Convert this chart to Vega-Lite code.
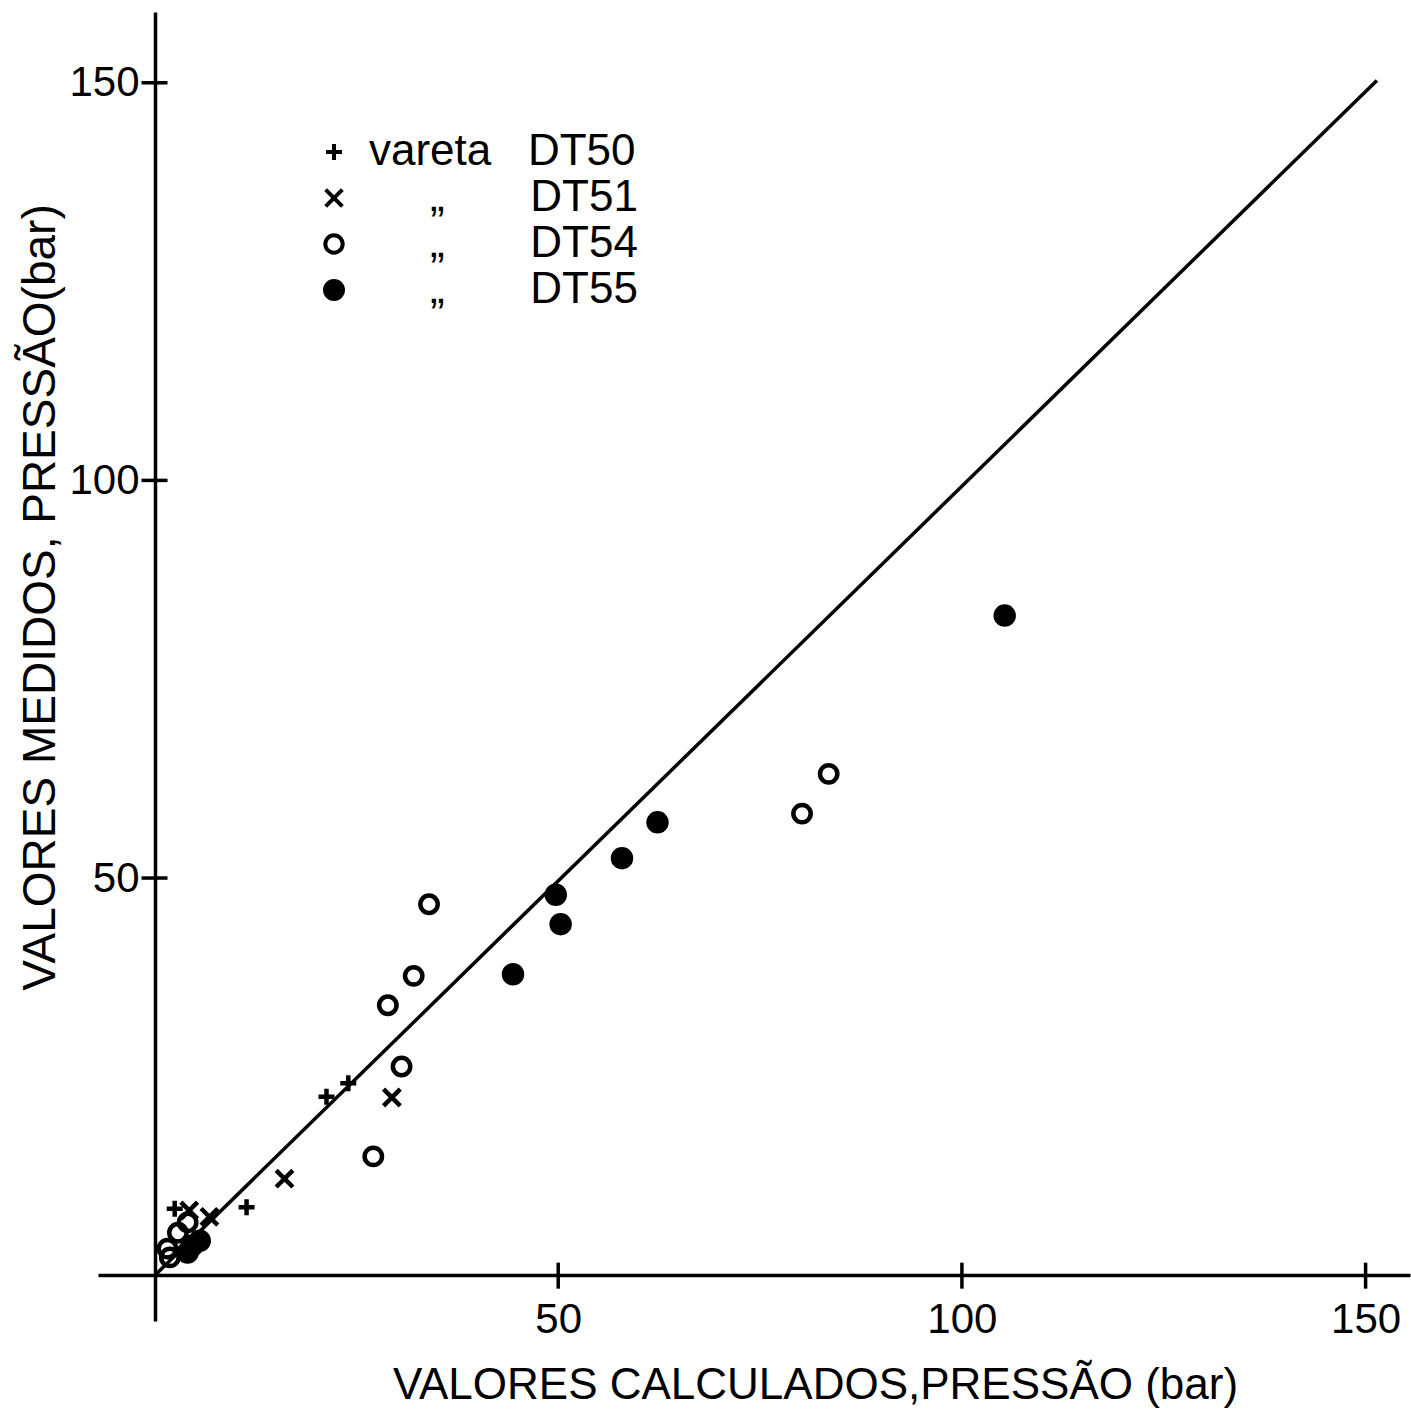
{
  "$schema": "https://vega.github.io/schema/vega-lite/v6.json",
  "width": 1312,
  "height": 1309,
  "autosize": {"type": "none"},
  "padding": {"left": 98, "top": 12, "right": 1, "bottom": 89},
  "background": "white",
  "config": {"view": {"stroke": null}, "font": "Liberation Sans"},
  "datasets": {
    "pts": [
      {"series": "DT50", "x": 2.5, "y": 8.4},
      {"series": "DT50", "x": 11.4, "y": 8.6},
      {"series": "DT50", "x": 21.3, "y": 22.5},
      {"series": "DT50", "x": 24.0, "y": 24.2},
      {"series": "DT51", "x": 4.3, "y": 8.2},
      {"series": "DT51", "x": 6.8, "y": 7.4},
      {"series": "DT51", "x": 16.1, "y": 12.2},
      {"series": "DT51", "x": 29.4, "y": 22.4},
      {"series": "DT54", "x": 34.0, "y": 46.7},
      {"series": "DT54", "x": 32.1, "y": 37.7},
      {"series": "DT54", "x": 28.9, "y": 34.0},
      {"series": "DT54", "x": 30.6, "y": 26.3},
      {"series": "DT54", "x": 27.1, "y": 15.0},
      {"series": "DT54", "x": 83.5, "y": 63.1},
      {"series": "DT54", "x": 80.2, "y": 58.1},
      {"series": "DT54", "x": 1.6, "y": 3.4},
      {"series": "DT54", "x": 2.9, "y": 5.4},
      {"series": "DT54", "x": 4.1, "y": 6.7},
      {"series": "DT54", "x": 1.9, "y": 2.3},
      {"series": "DT55", "x": 105.3, "y": 83.0},
      {"series": "DT55", "x": 62.3, "y": 57.0},
      {"series": "DT55", "x": 57.9, "y": 52.5},
      {"series": "DT55", "x": 49.7, "y": 47.9},
      {"series": "DT55", "x": 50.3, "y": 44.2},
      {"series": "DT55", "x": 44.4, "y": 37.9},
      {"series": "DT55", "x": 4.7, "y": 3.8},
      {"series": "DT55", "x": 5.6, "y": 4.4},
      {"series": "DT55", "x": 4.1, "y": 2.9}
    ],
    "diag": [{"x": 0, "y": 0}, {"x": 151.4, "y": 150.3}],
    "xticks": [{"x": 50, "y": 0}, {"x": 100, "y": 0}, {"x": 150, "y": 0}],
    "yticks": [{"x": 0, "y": 50}, {"x": 0, "y": 100}, {"x": 0, "y": 150}]
  },
  "encoding": {
    "x": {
      "field": "x", "type": "quantitative",
      "scale": {"domain": [-7, 155.5], "nice": false, "zero": false},
      "axis": {
        "title": "VALORES CALCULADOS,PRESSÃO (bar)",
        "values": [50, 100, 150], "offset": -46, "grid": false,
        "ticks": false, "tickSize": 0, "domainWidth": 3.5, "domainColor": "black",
        "labelFontSize": 42, "labelColor": "black", "labelPadding": 24, "labelFont": "Liberation Sans",
        "labelOverlap": false, "labelFlush": false,
        "titleFont": "Liberation Sans", "titleFontSize": 44, "titleFontWeight": "normal", "titleColor": "black",
        "titleX": 717, "titleY": 110, "titleBaseline": "middle", "titleAlign": "center", "titleAnchor": null
      }
    },
    "y": {
      "field": "y", "type": "quantitative",
      "scale": {"domain": [-5.7, 158.9], "nice": false, "zero": false},
      "axis": {
        "title": "VALORES MEDIDOS, PRESSÃO(bar)",
        "values": [50, 100, 150], "offset": -57, "grid": false,
        "ticks": false, "tickSize": 0, "domainWidth": 3.5, "domainColor": "black",
        "labelFontSize": 42, "labelColor": "black", "labelPadding": 16, "labelFont": "Liberation Sans",
        "labelOverlap": false, "labelFlush": false,
        "titleFont": "Liberation Sans", "titleFontSize": 46, "titleFontWeight": "normal", "titleColor": "black",
        "titleX": -115, "titleY": 585, "titleBaseline": "middle", "titleAlign": "center", "titleAngle": -90, "titleAnchor": null
      }
    }
  },
  "layer": [
    {
      "data": {"name": "diag"},
      "mark": {"type": "line", "color": "black", "strokeWidth": 3.5},
      "encoding": {}
    },
    {
      "data": {"name": "xticks"},
      "mark": {"type": "tick", "orient": "vertical", "size": 26, "thickness": 3.5, "color": "black", "opacity": 1},
      "encoding": {}
    },
    {
      "data": {"name": "yticks"},
      "mark": {"type": "tick", "orient": "horizontal", "size": 26, "thickness": 3.5, "color": "black", "opacity": 1},
      "encoding": {}
    },
    {
      "data": {"name": "pts"},
      "mark": {"type": "point", "filled": false, "stroke": "black", "strokeWidth": 4.5, "opacity": 1},
      "encoding": {
        "shape": {
          "field": "series", "type": "nominal",
          "scale": {
            "domain": ["DT50", "DT51", "DT54", "DT55"],
            "range": ["M-1,0H1M0,-1V1", "M-1,-1L1,1M-1,1L1,-1", "circle", "circle"]
          },
          "legend": {
            "orient": "none", "legendX": 214, "legendY": 118, "title": null,
            "labelFontSize": 44, "labelFont": "Liberation Sans", "labelColor": "black", "labelLimit": 600,
            "symbolStrokeWidth": 4, "symbolStrokeColor": "black", "rowPadding": 2, "labelOffset": 13,
            "labelExpr": "datum.label == 'DT50' ? 'vareta\u00a0\u00a0\u00a0DT50' : '\u200b\u00a0\u00a0\u00a0\u00a0\u00a0„\u00a0\u00a0\u00a0\u00a0\u00a0\u00a0\u00a0' + datum.label"
          }
        },
        "fill": {
          "field": "series", "type": "nominal",
          "scale": {"domain": ["DT50", "DT51", "DT54", "DT55"], "range": ["transparent", "transparent", "transparent", "black"]}
        },
        "size": {
          "field": "series", "type": "ordinal",
          "scale": {"domain": ["DT50", "DT51", "DT54", "DT55"], "range": [256, 324, 324, 289]}
        }
      }
    }
  ]
}
